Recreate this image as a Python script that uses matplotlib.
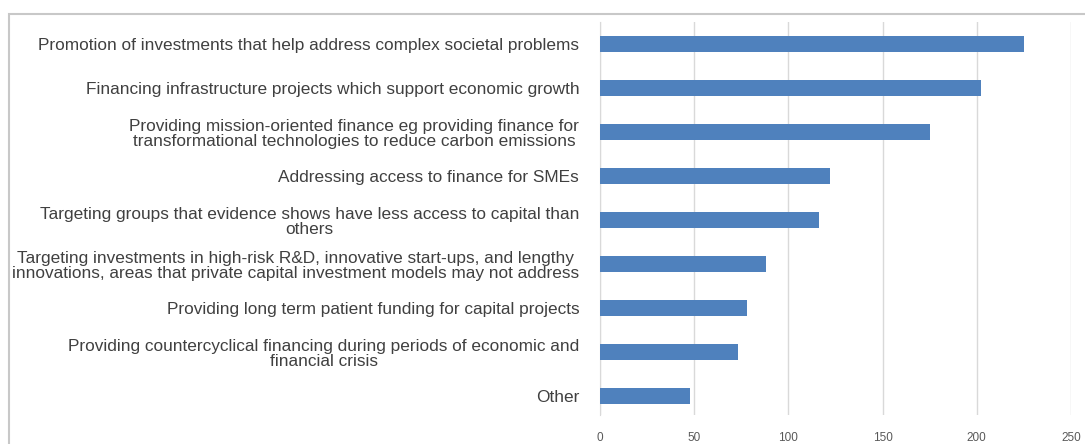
import matplotlib.pyplot as plt
from matplotlib.patches import Rectangle

plt.rcParams['font.family'] = ['Liberation Sans', 'DejaVu Sans']

categories = [
    "Promotion of investments that help address complex societal problems",
    "Financing infrastructure projects which support economic growth",
    "Providing mission-oriented finance eg providing finance for\ntransformational technologies to reduce carbon emissions",
    "Addressing access to finance for SMEs",
    "Targeting groups that evidence shows have less access to capital than\nothers",
    "Targeting investments in high-risk R&D, innovative start-ups, and lengthy\ninnovations, areas that private capital investment models may not address",
    "Providing long term patient funding for capital projects",
    "Providing countercyclical financing during periods of economic and\nfinancial crisis",
    "Other",
]
counts = [225, 202, 175, 122, 116, 88, 78, 73, 48]
xticks = [0, 50, 100, 150, 200, 250]

fig = plt.figure(figsize=(10.85, 4.44), dpi=100)
ax = fig.add_axes([600 / 1085, 1 - 415 / 444, 471 / 1085, 393 / 444])

pos = list(range(len(categories)))
ax.barh(pos, counts, height=0.36, color='#4f81bd', zorder=3)

ax.set_ylim(8.43, -0.5)
ax.set_xlim(0, 250)
ax.set_xticks(xticks)
ax.set_yticks(pos)
ax.set_yticklabels(categories, fontsize=12.4, color='#404040', ma='center',
                   linespacing=1.0)
ax.tick_params(axis='y', length=0, pad=15)
ax.tick_params(axis='x', length=0, labelsize=8.5, labelcolor='#595959', pad=12)
ax.grid(axis='x', color='#d9d9d9', linewidth=1, zorder=0)
for side in ['top', 'right', 'bottom']:
    ax.spines[side].set_visible(False)
ax.spines['left'].set_color('#d9d9d9')

# chart area outline
fig.patches.append(Rectangle((9 / 1085, -0.1), 1.2, 1 - 14 / 444 + 0.1,
                             transform=fig.transFigure, fill=False,
                             edgecolor='#c8c8c8', linewidth=1.5))

fig.savefig('out.png', dpi=100)
